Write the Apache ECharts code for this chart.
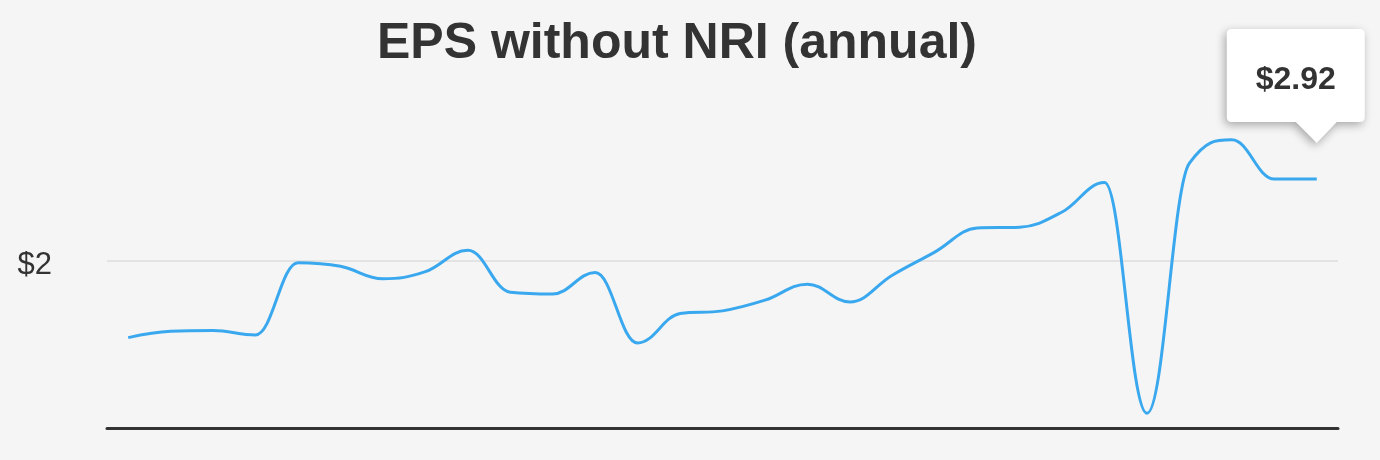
<!DOCTYPE html>
<html>
<head>
<meta charset="utf-8">
<script src="https://cdn.jsdelivr.net/npm/echarts@6/dist/echarts.min.js"></script>
<style>
html,body{margin:0;padding:0;background:#f5f5f5;}
#chart{width:1380px;height:460px;}
</style>
</head>
<body>
<div id="chart"></div>
<script>
const titleText = 'EPS without NRI (annual)';
const categories = ['1997','1998','1999','2000','2001','2002','2003','2004','2005','2006','2007','2008','2009','2010','2011','2012','2013','2014','2015','2016','2017','2018','2019','2020','2021','2022','2023','2024','2025'];
const epsValues = [1.14,1.21,1.22,1.17,1.98,1.94,1.80,1.88,2.12,1.65,1.63,1.87,1.08,1.41,1.44,1.56,1.74,1.54,1.84,2.10,2.37,2.38,2.55,2.88,0.29,3.10,3.36,2.92,2.92];
const yTickLabels = ['$2'];
const yTickValues = [2];

const FONT = 'Liberation Sans, Arial, Helvetica, sans-serif';
const chart = echarts.init(document.getElementById('chart'), null, {renderer:'canvas'});
const lastIdx = epsValues.length - 1;

// spline path through the points (control points from neighbouring points, no false extremes)
function splinePath(pts) {
  const smoothing = 1.5, denom = smoothing + 1;
  let d = 'M' + pts[0][0] + ',' + pts[0][1];
  let prevRight = null;
  for (let i = 1; i < pts.length; i++) {
    const [x, y] = pts[i];
    const [lx, ly] = pts[i - 1];
    let leftX = x, leftY = y, right = null;
    if (i < pts.length - 1) {
      const [nx, ny] = pts[i + 1];
      leftX = (smoothing * x + lx) / denom;
      leftY = (smoothing * y + ly) / denom;
      const rightX = (smoothing * x + nx) / denom;
      let rightY = (smoothing * y + ny) / denom;
      let corr = 0;
      if (rightX !== leftX) corr = ((rightY - leftY) * (rightX - x)) / (rightX - leftX) + y - rightY;
      leftY += corr; rightY += corr;
      if (leftY > ly && leftY > y) { leftY = Math.max(ly, y); rightY = 2 * y - leftY; }
      else if (leftY < ly && leftY < y) { leftY = Math.min(ly, y); rightY = 2 * y - leftY; }
      if (rightY > ny && rightY > y) { rightY = Math.max(ny, y); leftY = 2 * y - rightY; }
      else if (rightY < ny && rightY < y) { rightY = Math.min(ny, y); leftY = 2 * y - rightY; }
      right = [rightX, rightY];
    }
    const c1 = prevRight || [lx, ly];
    d += ' C' + c1[0] + ',' + c1[1] + ' ' + leftX + ',' + leftY + ' ' + x + ',' + y;
    prevRight = right;
  }
  return d;
}

function renderItem(params, api) {
  const pts = epsValues.map((v, i) => api.coord([i, v]));
  const last = pts[lastIdx];
  const tipX = last[0], tipY = last[1] - 36;
  const L = tipX - 90, T = tipY - 114, R = L + 138, B = T + 93, r = 5;
  const callout = 'M' + (L + r) + ',' + T + ' L' + (R - r) + ',' + T + ' Q' + R + ',' + T + ' ' + R + ',' + (T + r) +
    ' L' + R + ',' + (B - r) + ' Q' + R + ',' + B + ' ' + (R - r) + ',' + B +
    ' L' + (tipX + 20) + ',' + B + ' L' + tipX + ',' + tipY + ' L' + (tipX - 21) + ',' + B +
    ' L' + (L + r) + ',' + B + ' Q' + L + ',' + B + ' ' + L + ',' + (B - r) +
    ' L' + L + ',' + (T + r) + ' Q' + L + ',' + T + ' ' + (L + r) + ',' + T + ' Z';
  return {
    type: 'group',
    children: [
      {type: 'path', shape: {pathData: splinePath(pts)}, style: {fill: null, stroke: '#3aa8ee', lineWidth: 3}, silent: true},
      {type: 'path', shape: {pathData: callout}, style: {fill: '#ffffff', stroke: null, shadowBlur: 10, shadowColor: 'rgba(0,0,0,0.32)', shadowOffsetX: -2, shadowOffsetY: 3}, silent: true},
      {type: 'text', style: {text: '$' + epsValues[lastIdx].toFixed(2), x: L + 69, y: T + 51, align: 'center', verticalAlign: 'middle', fontFamily: FONT, fontSize: 32, fontWeight: 'bold', fill: '#333'}, silent: true}
    ]
  };
}

chart.setOption({
  animation: false,
  backgroundColor: '#f5f5f5',
  title: {
    text: titleText,
    left: 377,
    top: 19,
    padding: 0,
    textStyle: {fontFamily: FONT, fontSize: 50, fontWeight: 'bold', color: '#333'}
  },
  grid: {left: 107, right: 42, top: 94, bottom: 32},
  xAxis: {
    type: 'category',
    data: categories,
    boundaryGap: true,
    axisLine: {show: true, lineStyle: {color: '#333', width: 3}},
    axisTick: {show: false},
    axisLabel: {show: false},
    splitLine: {show: false}
  },
  yAxis: {
    type: 'value',
    min: 0.125,
    max: 3.875,
    interval: 1.875,
    axisLine: {show: false},
    axisTick: {show: false},
    axisLabel: {
      margin: 55,
      fontFamily: FONT,
      fontSize: 31,
      color: '#333',
      rich: {lab: {fontFamily: FONT, fontSize: 31, color: '#333', padding: [8, 0, 0, 0]}},
      formatter: function (v) {
        for (let i = 0; i < yTickValues.length; i++) {
          if (Math.abs(v - yTickValues[i]) < 1e-6) return '{lab|' + yTickLabels[i] + '}';
        }
        return '';
      }
    },
    splitLine: {show: true, lineStyle: {color: ['rgba(0,0,0,0)', '#e3e3e3', 'rgba(0,0,0,0)'], width: 2}}
  },
  series: [{
    type: 'custom',
    name: 'EPS without NRI',
    clip: false,
    renderItem: renderItem,
    data: [[lastIdx, epsValues[lastIdx]]]
  }]
});
</script>
</body>
</html>
